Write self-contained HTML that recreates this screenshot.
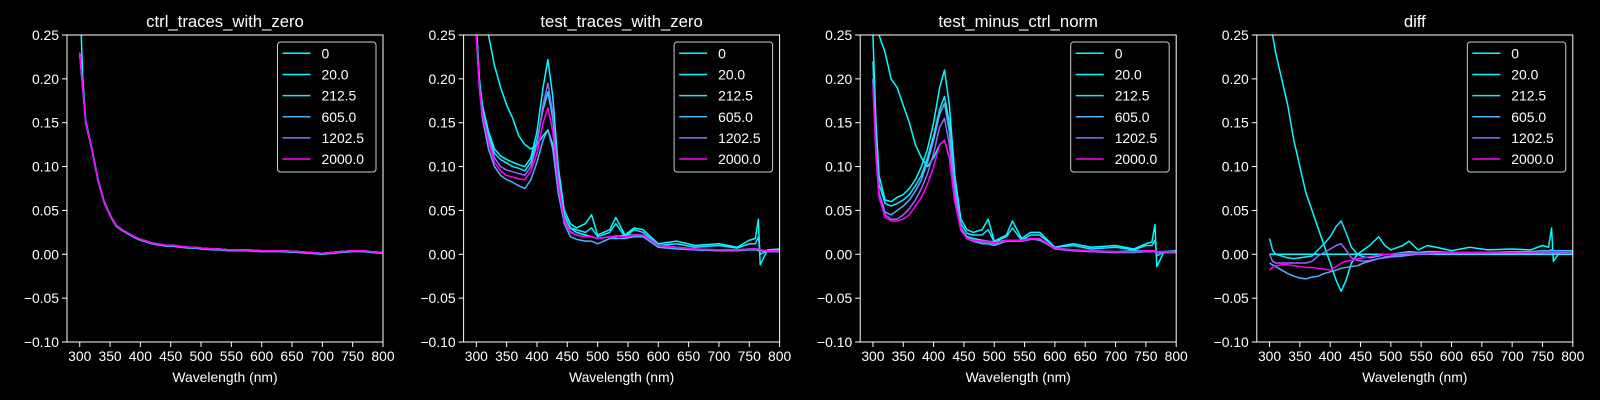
<!DOCTYPE html>
<html><head><meta charset="utf-8"><style>
html,body{margin:0;padding:0;background:#000;width:1600px;height:400px;overflow:hidden}
svg{display:block}
text{font-family:"Liberation Sans","DejaVu Sans",sans-serif;fill:#fff}
</style></head><body>
<svg id="fig" width="1600" height="400" xmlns="http://www.w3.org/2000/svg"></svg>
<script>
const wl=[300,305,310,320,330,340,350,360,370,380,390,400,410,418,426,435,445,455,465,480,490,500,520,530,545,560,575,600,630,660,700,730,750,760,765,768,780,800];
const seriesLabels=["0","20.0","212.5","605.0","1202.5","2000.0"];
const seriesColors=["#00ffff","#03fcff","#1be4ff","#4db2ff","#9966ff","#ff00ff"];
const panelTitles=["ctrl_traces_with_zero","test_traces_with_zero","test_minus_ctrl_norm","diff"];
const xTicks=[300,350,400,450,500,550,600,650,700,750,800];
const yTicks=[0.25,0.20,0.15,0.10,0.05,0.00,-0.05,-0.10];
const yTickLabels=["0.25","0.20","0.15","0.10","0.05","0.00","\u22120.05","\u22120.10"];

const ctrl0=[0.30,0.2,0.152,0.121,0.086,0.061,0.045,0.033,0.028,0.024,0.02,0.017,0.015,0.013,0.012,0.011,0.01,0.01,0.009,0.008,0.008,0.007,0.006,0.006,0.005,0.005,0.005,0.004,0.004,0.003,0.001,0.003,0.004,0.004,0.004,0.004,0.003,0.002];
const ctrl20=[0.23,0.19,0.15,0.12,0.085,0.06,0.045,0.033,0.028,0.024,0.02,0.017,0.015,0.013,0.012,0.011,0.01,0.01,0.009,0.008,0.008,0.007,0.006,0.006,0.005,0.005,0.005,0.004,0.004,0.003,0.001,0.003,0.004,0.004,0.004,0.004,0.003,0.002];
const ctrl212=[0.23,0.19,0.15,0.12,0.085,0.06,0.045,0.033,0.028,0.024,0.02,0.017,0.015,0.013,0.012,0.011,0.01,0.01,0.009,0.008,0.008,0.007,0.006,0.006,0.005,0.005,0.005,0.004,0.004,0.003,0.001,0.003,0.004,0.004,0.004,0.004,0.003,0.002];
const ctrl605=[0.228,0.188,0.149,0.119,0.084,0.059,0.044,0.032,0.027,0.023,0.019,0.016,0.014,0.012,0.011,0.01,0.009,0.009,0.008,0.007,0.007,0.006,0.005,0.005,0.004,0.004,0.004,0.003,0.003,0.002,0.0,0.002,0.003,0.003,0.003,0.003,0.002,0.001];
const ctrl1202=[0.23,0.19,0.15,0.12,0.085,0.06,0.045,0.033,0.028,0.024,0.02,0.017,0.015,0.013,0.012,0.011,0.01,0.01,0.009,0.008,0.008,0.007,0.006,0.006,0.005,0.005,0.005,0.004,0.004,0.003,0.001,0.003,0.004,0.004,0.004,0.004,0.003,0.002];
const ctrl2000=[0.23,0.19,0.15,0.12,0.085,0.06,0.045,0.033,0.028,0.024,0.02,0.017,0.015,0.013,0.012,0.011,0.01,0.01,0.009,0.008,0.008,0.007,0.006,0.006,0.005,0.005,0.005,0.004,0.004,0.003,0.001,0.003,0.004,0.004,0.004,0.004,0.003,0.002];

const test0=[0.40,0.33,0.29,0.25,0.215,0.19,0.17,0.155,0.135,0.125,0.12,0.125,0.135,0.142,0.125,0.08,0.045,0.03,0.025,0.022,0.02,0.018,0.02,0.02,0.022,0.022,0.02,0.01,0.008,0.006,0.004,0.005,0.006,0.006,0.004,0.004,0.004,0.004];
const test20=[0.26,0.2,0.17,0.14,0.12,0.112,0.108,0.105,0.102,0.1,0.11,0.14,0.19,0.222,0.18,0.1,0.05,0.035,0.03,0.035,0.045,0.022,0.028,0.042,0.022,0.03,0.028,0.012,0.015,0.01,0.012,0.008,0.016,0.018,0.04,-0.012,0.005,0.006];
const test212=[0.26,0.2,0.165,0.135,0.115,0.108,0.104,0.1,0.098,0.095,0.105,0.13,0.165,0.185,0.155,0.09,0.045,0.03,0.028,0.025,0.03,0.02,0.025,0.035,0.02,0.028,0.025,0.01,0.012,0.008,0.01,0.007,0.012,0.012,0.02,0.0,0.004,0.005];
const test605=[0.25,0.19,0.155,0.12,0.1,0.09,0.085,0.082,0.078,0.075,0.085,0.105,0.13,0.142,0.12,0.07,0.035,0.02,0.017,0.015,0.015,0.012,0.018,0.018,0.018,0.02,0.02,0.008,0.006,0.005,0.004,0.004,0.005,0.005,0.005,0.004,0.003,0.003];
const test1202=[0.25,0.19,0.16,0.13,0.11,0.1,0.096,0.094,0.092,0.09,0.1,0.125,0.17,0.195,0.16,0.085,0.04,0.026,0.022,0.02,0.02,0.018,0.02,0.021,0.02,0.022,0.022,0.01,0.008,0.006,0.005,0.005,0.006,0.006,0.006,0.005,0.004,0.004];
const test2000=[0.25,0.19,0.16,0.128,0.105,0.095,0.09,0.088,0.086,0.085,0.095,0.115,0.15,0.167,0.14,0.08,0.038,0.025,0.022,0.02,0.02,0.018,0.02,0.021,0.02,0.022,0.022,0.01,0.008,0.006,0.005,0.005,0.006,0.006,0.006,0.005,0.004,0.004];

const norm0=[0.33,0.28,0.25,0.23,0.2,0.19,0.17,0.15,0.125,0.11,0.1,0.11,0.125,0.13,0.11,0.06,0.03,0.02,0.018,0.016,0.015,0.014,0.016,0.016,0.016,0.018,0.016,0.007,0.005,0.004,0.003,0.004,0.004,0.004,0.003,0.003,0.003,0.003];
const norm20=[0.25,0.15,0.09,0.062,0.06,0.065,0.068,0.075,0.085,0.1,0.12,0.15,0.19,0.21,0.17,0.09,0.04,0.028,0.025,0.028,0.04,0.015,0.022,0.038,0.018,0.025,0.025,0.008,0.012,0.008,0.01,0.006,0.012,0.014,0.034,-0.014,0.003,0.004];
const norm212=[0.22,0.13,0.08,0.058,0.055,0.058,0.062,0.068,0.078,0.09,0.11,0.135,0.165,0.18,0.15,0.08,0.035,0.024,0.022,0.022,0.028,0.014,0.02,0.03,0.016,0.022,0.022,0.008,0.01,0.006,0.008,0.005,0.01,0.01,0.016,-0.002,0.003,0.003];
const norm605=[0.2,0.12,0.07,0.048,0.045,0.05,0.055,0.062,0.072,0.085,0.105,0.13,0.16,0.172,0.14,0.075,0.03,0.018,0.015,0.012,0.012,0.01,0.015,0.015,0.015,0.017,0.017,0.006,0.004,0.003,0.002,0.002,0.003,0.003,0.003,0.002,0.002,0.002];
const norm1202=[0.2,0.12,0.07,0.045,0.04,0.04,0.045,0.052,0.062,0.075,0.092,0.115,0.145,0.155,0.125,0.07,0.03,0.018,0.016,0.014,0.014,0.012,0.015,0.016,0.015,0.017,0.017,0.006,0.004,0.003,0.002,0.003,0.003,0.003,0.003,0.002,0.002,0.002];
const norm2000=[0.19,0.11,0.065,0.042,0.038,0.038,0.04,0.045,0.055,0.065,0.08,0.1,0.125,0.13,0.11,0.06,0.027,0.018,0.016,0.015,0.015,0.013,0.016,0.016,0.016,0.018,0.018,0.007,0.005,0.004,0.003,0.003,0.004,0.004,0.004,0.003,0.003,0.003];

const diff0=[0,0,0,0,0,0,0,0,0,0,0,0,0,0,0,0,0,0,0,0,0,0,0,0,0,0,0,0,0,0,0,0,0,0,0,0,0,0];
const diff20=[0.3,0.25,0.23,0.2,0.17,0.13,0.1,0.07,0.05,0.03,0.01,-0.01,-0.03,-0.042,-0.03,-0.01,0.0,0.005,0.01,0.02,0.01,0.005,0.01,0.015,0.005,0.01,0.008,0.004,0.008,0.005,0.006,0.005,0.01,0.008,0.03,-0.008,0.004,0.004];
const diff212=[0.018,0.005,0.0,-0.002,-0.004,-0.005,-0.004,-0.003,-0.002,0.005,0.012,0.02,0.032,0.038,0.025,0.008,0.0,-0.003,-0.004,-0.002,0.0,0.0,0.002,0.003,0.002,0.003,0.003,0.002,0.002,0.002,0.003,0.003,0.004,0.004,0.005,0.004,0.004,0.004];
const diff605=[-0.01,-0.012,-0.014,-0.018,-0.022,-0.025,-0.027,-0.028,-0.026,-0.025,-0.022,-0.02,-0.018,-0.016,-0.015,-0.014,-0.013,-0.01,-0.008,-0.005,-0.004,-0.003,-0.002,-0.001,0.0,0.0,0.001,0.001,0.001,0.002,0.002,0.002,0.002,0.003,0.003,0.003,0.003,0.003];
const diff1202=[0.0,-0.008,-0.01,-0.01,-0.01,-0.01,-0.01,-0.01,-0.008,-0.002,0.002,0.006,0.01,0.012,0.005,-0.004,-0.007,-0.008,-0.007,-0.005,-0.003,-0.002,-0.001,0.0,0.0,0.0,0.001,0.001,0.001,0.001,0.002,0.002,0.002,0.002,0.002,0.002,0.002,0.002];
const diff2000=[-0.018,-0.015,-0.013,-0.012,-0.012,-0.013,-0.014,-0.015,-0.015,-0.016,-0.017,-0.018,-0.014,-0.01,-0.008,-0.007,-0.005,-0.004,-0.003,-0.001,0.0,0.0,0.001,0.001,0.001,0.001,0.002,0.002,0.002,0.002,0.002,0.002,0.003,0.003,0.003,0.003,0.003,0.003];

const panelSeries=[
 [ctrl0,ctrl20,ctrl212,ctrl605,ctrl1202,ctrl2000],
 [test0,test20,test212,test605,test1202,test2000],
 [norm0,norm20,norm212,norm605,norm1202,norm2000],
 [diff0,diff20,diff212,diff605,diff1202,diff2000]
];

const NS="http://www.w3.org/2000/svg";
const fig=document.getElementById('fig');
function mk(tag,attrs,parent){const e=document.createElementNS(NS,tag);for(const k in attrs)e.setAttribute(k,attrs[k]);(parent||fig).appendChild(e);return e;}
const AX_W=316,AX_H=307,AX_TOP=35,X0=279,X1=800,Y0=-0.10,Y1=0.25;
const lefts=[67,463.6,860.2,1256.8];

panelTitles.forEach((title,p)=>{
  const L=lefts[p];
  const xs=v=>L+(v-X0)/(X1-X0)*AX_W;
  const ys=v=>AX_TOP+(Y1-v)/(Y1-Y0)*AX_H;
  const g=mk('g',{});
  
  
  const cp=mk('clipPath',{id:'clip'+p},g);
  mk('rect',{x:L,y:AX_TOP,width:AX_W,height:AX_H},cp);
  const t=mk('text',{x:L+AX_W/2,y:27,'text-anchor':'middle','font-size':'16.7'},g);
  t.textContent=title;
  
  
  const lines=mk('g',{'clip-path':'url(#clip'+p+')'},g);
  panelSeries[p].forEach((arr,i)=>{
    const d=arr.map((v,j)=>(j?'L':'M')+xs(wl[j]).toFixed(2)+','+ys(v).toFixed(2)).join('');
    const pth=mk('path',{d:d,fill:'none',stroke:seriesColors[i],'stroke-width':'1.5','stroke-linejoin':'round'},lines);
    
    
  });
  const fr=mk('rect',{x:L,y:AX_TOP,width:AX_W,height:AX_H,fill:'none',stroke:'#fff','stroke-width':'1'},g);
  
  
  xTicks.forEach(v=>{
    const x=xs(v);
    mk('line',{x1:x,x2:x,y1:AX_TOP+AX_H,y2:AX_TOP+AX_H+5,stroke:'#fff','stroke-width':'1'},g);
    const tl=mk('text',{x:x,y:AX_TOP+AX_H+19,'text-anchor':'middle','font-size':'13.9'},g);
    tl.textContent=String(v);
    
    
  });
  yTicks.forEach((v,i)=>{
    const y=ys(v);
    mk('line',{x1:L-5,x2:L,y1:y,y2:y,stroke:'#fff','stroke-width':'1'},g);
    const tl=mk('text',{x:L-8,y:y+5,'text-anchor':'end','font-size':'13.9'},g);
    tl.textContent=yTickLabels[i];
    
    
  });
  const xl=mk('text',{x:L+AX_W/2,y:382,'text-anchor':'middle','font-size':'13.9'},g);
  xl.textContent='Wavelength (nm)';
  
  
  const lg=mk('g',{},g);
  
  
  const lx=L+AX_W-105.5;
  mk('rect',{x:lx,y:42,width:98.5,height:130,rx:3,fill:'#000','fill-opacity':'0.8',stroke:'#cccccc','stroke-width':'1'},lg);
  seriesLabels.forEach((lab,i)=>{
    const y=53.3+21.15*i;
    const e=mk('g',{},lg);
    
    
    mk('line',{x1:lx+5,x2:lx+33,y1:y,y2:y,stroke:seriesColors[i],'stroke-width':'1.5'},e);
    const tt=mk('text',{x:lx+44,y:y+5,'font-size':'13.9'},e);
    tt.textContent=lab;
  });
});
</script>
</body></html>
